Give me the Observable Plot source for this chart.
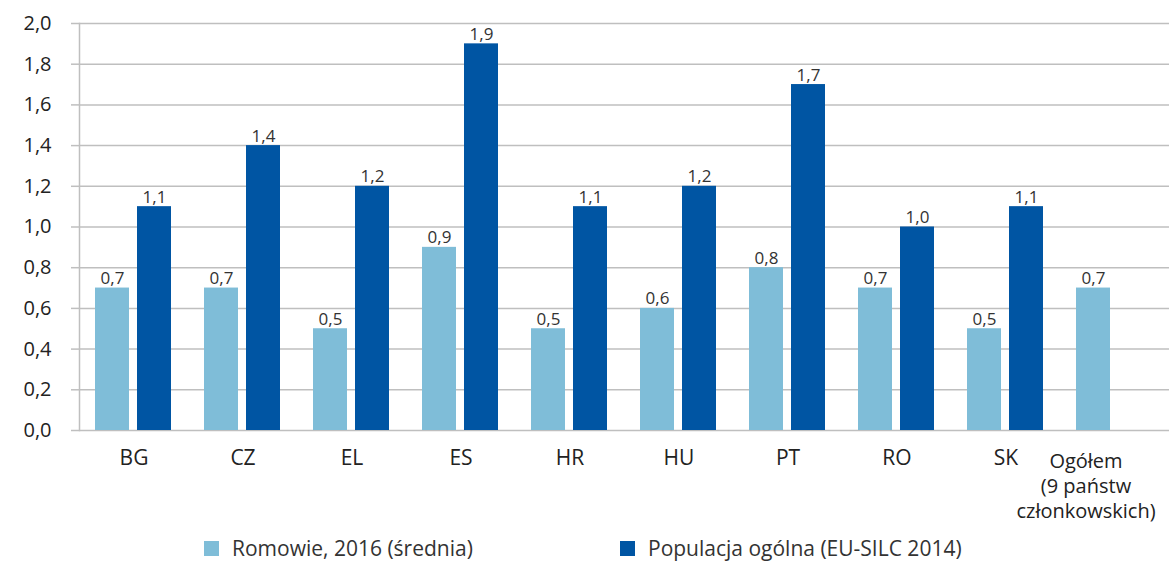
<!DOCTYPE html>
<html><head><meta charset="utf-8">
<script src="https://cdn.jsdelivr.net/npm/d3@7"></script>
<script src="https://cdn.jsdelivr.net/npm/@observablehq/plot@0.6"></script>
<style>
body{margin:0;background:#fff;font-family:"Open Sans",sans-serif;}
#legend{display:flex;height:35px;align-items:center;font-size:21px;color:#333;position:relative;}
.item{position:absolute;display:flex;align-items:center;top:4px;}
.sw{width:15px;height:15px;display:inline-block;margin-right:13px;}
</style></head><body>
<div id="chart"></div>
<div id="legend"></div>
<script>
const categories = ["BG","CZ","EL","ES","HR","HU","PT","RO","SK","Ogółem\n(9 państw\nczłonkowskich)"];
const series = ["Romowie, 2016 (średnia)","Populacja ogólna (EU-SILC 2014)"];
const roma = [0.7,0.7,0.5,0.9,0.5,0.6,0.8,0.7,0.5,0.7];
const general = [1.1,1.4,1.2,1.9,1.1,1.2,1.7,1.0,1.1,null];
const colors = ["#7fbdd8","#0055a3"];
const yTicks = [0,0.2,0.4,0.6,0.8,1.0,1.2,1.4,1.6,1.8,2.0];

const data = [];
categories.forEach((c,i)=>{
  if (roma[i]!=null) data.push({cat:c, s:series[0], v:roma[i]});
  if (general[i]!=null) data.push({cat:c, s:series[1], v:general[i]});
});
const comma = d => d3.format(".1f")(d).replace(".", ",");

const chart = Plot.plot({
  width:1175, height:530,
  marginLeft:75, marginRight:3, marginTop:23, marginBottom:100,
  style:{fontFamily:"Open Sans, sans-serif", background:"#fff"},
  fx:{domain:categories, padding:0},
  x:{domain:series, paddingInner:0.186, paddingOuter:0.372, axis:null},
  y:{domain:[0,2], axis:null},
  color:{domain:series, range:colors},
  marks:[
    Plot.gridY(yTicks, {stroke:"#bfbfbf", strokeOpacity:1, strokeWidth:1.5}),
    Plot.axisY({ticks:yTicks, tickFormat:comma, tickSize:8, tickPadding:20, fontSize:20, stroke:"#bfbfbf", strokeWidth:1.5, fill:"#222", label:null}),
    Plot.frame({anchor:"left", facetAnchor:"left", stroke:"#bfbfbf", strokeWidth:1.5}),
    Plot.barY(data, {fx:"cat", x:"s", y:"v", fill:"s"}),
    Plot.text(data, {fx:"cat", x:"s", y:"v", text:d=>comma(d.v), lineAnchor:"bottom", dy:-4, fontSize:17, fill:"#333"}),
    Plot.axisFx({anchor:"bottom", ticks:categories.slice(0,9), tickSize:0, tickPadding:20, fontSize:21, fill:"#222", label:null, lineAnchor:"top"}),
    Plot.axisFx({anchor:"bottom", ticks:categories.slice(9), tickSize:0, tickPadding:20, fontSize:20, fill:"#222", label:null, lineAnchor:"top", lineHeight:1.25, dx:-29})
  ]
});
document.getElementById("chart").appendChild(chart);

const lg = document.getElementById("legend");
const lefts = [204, 620];
series.forEach((s,i)=>{
  const it = document.createElement("div");
  it.className="item"; it.style.left = lefts[i]+"px";
  it.innerHTML = `<span class="sw" style="background:${colors[i]}"></span><span>${s}</span>`;
  lg.appendChild(it);
});
</script>
</body></html>
